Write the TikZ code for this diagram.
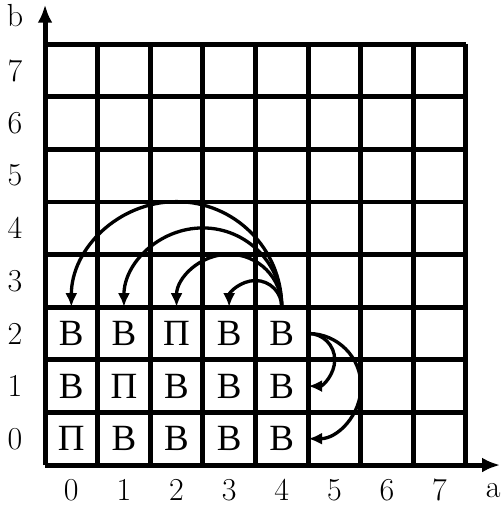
\documentclass[tikz,border=0pt]{standalone}
\usepackage{fontspec}
\newfontfamily\cyr{Liberation Serif}
\usetikzlibrary{arrows.meta}

\begin{document}
\begin{tikzpicture}[x=10mm, y=10mm,
		>={Latex[length=2.6mm, width=2.3mm]},   % Pfeilspitzen
		font=\LARGE,
		cell/.style={minimum size=10mm, inner sep=0pt, font=\fontsize{20}{24}\cyr},
		axis/.style={-{Latex[length=3.4mm, width=2.8mm]}, line width=2.7pt},
		hop/.style={->, line width=1.8pt}]
		\useasboundingbox (-0.856,-0.76) rectangle (8.69,8.84);
		% Raster
		\draw[line width=2.7pt] (0,0) grid (8,8);
		% Achsen
		\draw[axis] (0,0) -- (8.65,0);
		\draw[axis] (0,0) -- (0,8.75);
		\node (a) at (8.52,-0.48) {a};
		\node (b) at (-0.57,8.55) {b};
		\foreach \x in {0,...,7} \node (ax\x) at (\x+0.5,-0.48) {\x};
		\foreach \y in {0,...,7} \node (ay\y) at (-0.57,\y+0.5) {\y};
		% Felder
		\foreach \l [count=\i from 0] in {В,В,П,В,В} \node[cell] (c\i2) at (\i+0.5,2.5) {\l};
		\foreach \l [count=\i from 0] in {В,П,В,В,В} \node[cell] (c\i1) at (\i+0.5,1.5) {\l};
		\foreach \l [count=\i from 0] in {П,В,В,В,В} \node[cell] (c\i0) at (\i+0.5,0.5) {\l};
		% Zuege
		\foreach \r in {0.5,1,1.5,2} \draw[hop] (c42.north) arc[start angle=0, end angle=180, radius=\r];
		\draw[hop] (c42.east) arc[start angle=90, end angle=-90, radius=0.5];
		\draw[hop] (c42.east) arc[start angle=90, end angle=-90, radius=1];
	\end{tikzpicture}
\end{document}
